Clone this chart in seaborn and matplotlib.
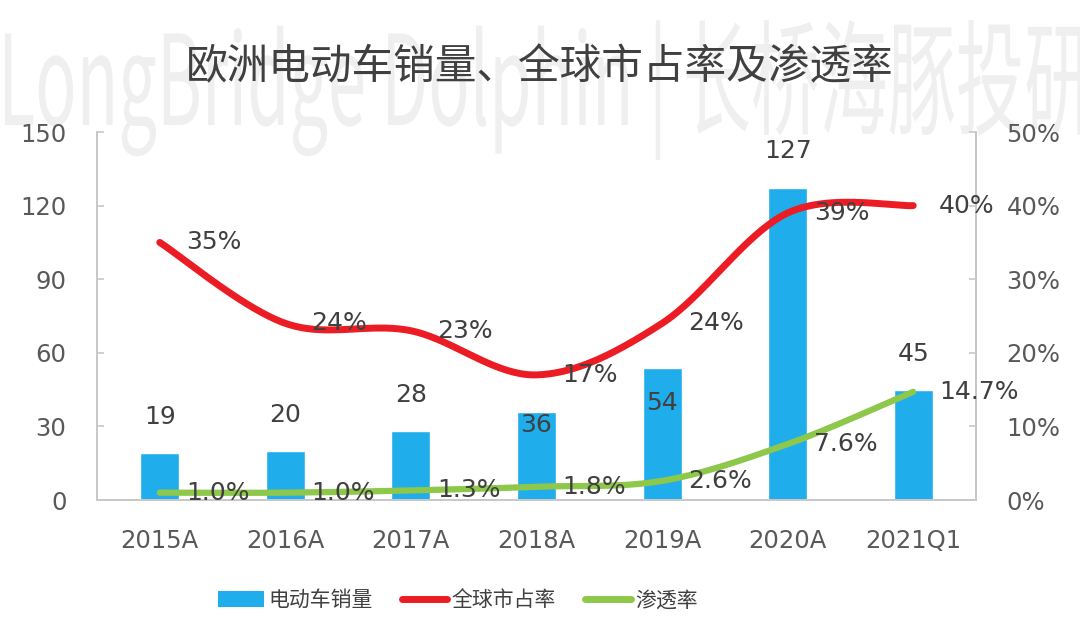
import numpy as np
import pandas as pd
import matplotlib
matplotlib.use("Agg")
import matplotlib.pyplot as plt
import seaborn as sns
from matplotlib.patches import Patch, PathPatch
from matplotlib.lines import Line2D
from matplotlib.textpath import TextPath
from matplotlib.font_manager import FontProperties
from matplotlib.transforms import Affine2D
from matplotlib.ticker import MultipleLocator, PercentFormatter

sns.set_theme(style="white")
plt.rcParams['font.family'] = ['Noto Sans CJK SC', 'DejaVu Sans']

# 数据
years = ["2015A", "2016A", "2017A", "2018A", "2019A", "2020A", "2021Q1"]
sales = [19, 20, 28, 36, 54, 127, 45]
global_share = [0.35, 0.24, 0.23, 0.17, 0.24, 0.39, 0.40]
penetration = [0.010, 0.010, 0.013, 0.018, 0.026, 0.076, 0.147]

BLUE = "#20ADEC"
RED = "#EC1C24"
GREEN = "#8DC84A"
TXT = "#404040"
TICK = "#595959"
SPINE = "#C8C8C8"
NUM = ['DejaVu Sans']


def smooth(xs, ys, n=40):
    # Excel 风格平滑线 (Catmull-Rom -> Bezier)
    p = np.column_stack([xs, ys]).astype(float)
    p = np.vstack([p[0], p, p[-1]])
    t = np.linspace(0, 1, n)[:, None]
    segs = []
    for i in range(1, len(p) - 2):
        p0, p1, p2, p3 = p[i - 1], p[i], p[i + 1], p[i + 2]
        c1 = p1 + (p2 - p0) / 6
        c2 = p2 - (p3 - p1) / 6
        segs.append((1 - t) ** 3 * p1 + 3 * (1 - t) ** 2 * t * c1
                    + 3 * (1 - t) * t ** 2 * c2 + t ** 3 * p2)
    s = np.vstack(segs)
    return s[:, 0], s[:, 1]


fig = plt.figure(figsize=(10.8, 6.44), dpi=100)
fig.patch.set_facecolor("white")

# 水印
fp = FontProperties(family=['Noto Sans CJK SC', 'DejaVu Sans'], weight="medium")
tp = TextPath((0, 0), "LongBridge Dolphin | 长桥海豚投研", size=1, prop=fp)
ext = tp.get_extents()
sx = 10.85 / ext.width
wm = PathPatch(tp, facecolor="#EFEFEF", edgecolor="none", zorder=-5,
               transform=Affine2D().translate(-ext.x0, 0).scale(sx, 1.25).translate(0.05, 5.19)
               + fig.dpi_scale_trans)
fig.add_artist(wm)

ax = fig.add_axes([0.0898, 0.2236, 0.8139, 0.5714])
ax.set_facecolor("none")

df = pd.DataFrame({"year": years, "sales": sales})
sns.barplot(data=df, x="year", y="sales", color=BLUE, width=0.31,
            saturation=1, ax=ax, zorder=2)
ax.set_xlim(-0.5, len(years) - 0.5)
ax.set_ylim(0, 150)
ax.yaxis.set_major_locator(MultipleLocator(30))
ax.set_xlabel("")
ax.set_ylabel("")

# 柱状图数值标签 (偏移像素)
bar_offsets = [36, 36, 36, -13, -35, 37, 36]
for i, (v, dy) in enumerate(zip(sales, bar_offsets)):
    ax.annotate(f"{v}", (i, v), xytext=(0, dy), textcoords="offset pixels",
                ha="center", va="center", fontsize=18, color=TXT, zorder=6,
                family=NUM)

ax2 = ax.twinx()
ax2.set_ylim(0, 0.5)
ax2.yaxis.set_major_locator(MultipleLocator(0.1))
ax2.yaxis.set_major_formatter(PercentFormatter(1.0, decimals=0))

xs = np.arange(len(years))
rx, ry = smooth(xs, global_share)
gx, gy = smooth(xs, penetration)
sns.lineplot(x=rx, y=ry, sort=False, estimator=None, color=RED, lw=5, ax=ax2,
             solid_capstyle="round")
sns.lineplot(x=gx, y=gy, sort=False, estimator=None, color=GREEN, lw=4.5, ax=ax2,
             solid_capstyle="round")

for i, v in enumerate(global_share):
    ax2.annotate(f"{v:.0%}", (i, v), xytext=(26, 0), textcoords="offset pixels",
                 ha="left", va="center", fontsize=18, color=TXT, zorder=6,
                 family=NUM)
for i, v in enumerate(penetration):
    ax2.annotate(f"{v:.1%}", (i, v), xytext=(26, 0), textcoords="offset pixels",
                 ha="left", va="center", fontsize=18, color=TXT, zorder=6,
                 family=NUM)

for a in (ax, ax2):
    for side in ("left", "right", "bottom"):
        a.spines[side].set_visible(True)
        a.spines[side].set_color(SPINE)
        a.spines[side].set_linewidth(1.3)
    a.spines["top"].set_visible(False)
    a.grid(False)

ax.tick_params(axis="x", length=0, pad=21, labelsize=17.5, labelcolor=TICK)
ax.tick_params(axis="y", direction="in", length=5, width=1.2, color=SPINE,
               pad=22, labelsize=17.5, labelcolor=TICK)
ax2.tick_params(axis="y", direction="in", length=5, width=1.2, color=SPINE,
                pad=22, labelsize=17.5, labelcolor=TICK)
for lab in ax.get_xticklabels() + ax.get_yticklabels() + ax2.get_yticklabels():
    lab.set_family(NUM)

fig.text(0.5, 0.895, "欧洲电动车销量、全球市占率及渗透率", ha="center", va="center",
         fontsize=30, color="#404040")

handles = [Patch(facecolor=BLUE, edgecolor="none"),
           Line2D([], [], color=RED, lw=5, solid_capstyle="round"),
           Line2D([], [], color=GREEN, lw=5, solid_capstyle="round")]
labels = ["电动车销量", "全球市占率", "渗透率"]
fig.legend(handles, labels, loc="center", bbox_to_anchor=(0.424, 0.068),
           ncol=3, frameon=False, fontsize=15, handlelength=2.2,
           handleheight=0.8, handletextpad=0.2, columnspacing=1.4,
           labelcolor=TXT)

fig.savefig("out.png", dpi=100, facecolor="white")
